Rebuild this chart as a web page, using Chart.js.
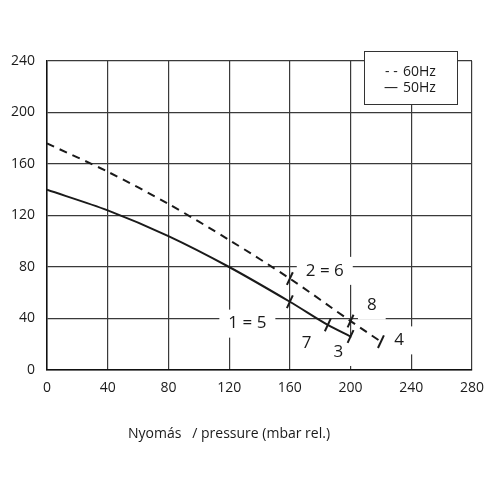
<!DOCTYPE html>
<html>
<head>
<meta charset="utf-8">
<script src="https://cdn.jsdelivr.net/npm/chart.js@4.4.1/dist/chart.umd.min.js"></script>
<style>
  html, body { margin: 0; padding: 0; background: #fff; }
  #wrap { width: 500px; height: 500px; }
</style>
</head>
<body>
<div id="wrap"><canvas id="c"></canvas></div>
<script>
// Görbék (nyomás mbar -> térfogatáram)
const X_60 = [0, 40, 80, 120, 160, 200, 220];
const Y_60 = [176, 154, 129, 101, 71, 38, 22];
const X_50 = [0, 40, 80, 120, 160, 185, 200];
const Y_50 = [140, 124, 104, 80, 53, 35, 26];

// munkapontok jelölései (rövid keresztvonalak)
const MARK_X = [160, 200, 220, 160, 185, 200];
const MARK_Y = [71, 38, 22, 53, 35, 26];

// feliratok
const LABEL_TEXT = ['2 = 6', '1 = 5', '8', '7', '3', '4'];
const LABEL_X    = [183, 132, 214, 171, 192, 232];
const LABEL_Y    = [77, 36, 50, 21, 14, 23];

const X_TICKS = [0, 40, 80, 120, 160, 200, 240, 280];
const Y_TICKS = [0, 40, 80, 120, 160, 200, 240];

const LEGEND = ['60Hz', '50Hz'];
const X_TITLE = 'Nyomás   / pressure (mbar rel.)';

const FONT = '"Open Sans", "DejaVu Sans", sans-serif';
const INK = '#1a1a1a';

const pts = (xs, ys) => xs.map((x, i) => ({ x, y: ys[i] }));

// fehér hátterű címkék a rács fölött, görbék alatt
const labelPlugin = {
  id: 'labels',
  beforeDatasetsDraw(chart) {
    const { ctx, scales: { x, y } } = chart;
    ctx.save();
    ctx.font = '17px ' + FONT;
    ctx.textAlign = 'center';
    ctx.textBaseline = 'middle';
    LABEL_TEXT.forEach((t, i) => {
      const px = x.getPixelForValue(LABEL_X[i]);
      const py = y.getPixelForValue(LABEL_Y[i]);
      const w = ctx.measureText(t).width + 18;
      ctx.fillStyle = '#fff';
      ctx.fillRect(px - w / 2, py - 14, w, 28);
      ctx.fillStyle = INK;
      ctx.fillText(t, px, py);
    });
    ctx.restore();
  },
  afterDraw(chart) {
    const { ctx, chartArea: a } = chart;
    ctx.save();
    // jelmagyarázat doboz
    const bx = a.right - 108, by = a.top - 10, bw = 93, bh = 53;
    ctx.fillStyle = '#fff';
    ctx.fillRect(bx, by, bw, bh);
    ctx.strokeStyle = '#333';
    ctx.lineWidth = 1;
    ctx.strokeRect(bx + 0.5, by + 0.5, bw, bh);
    ctx.font = '14px ' + FONT;
    ctx.fillStyle = INK;
    ctx.textBaseline = 'middle';
    ctx.textAlign = 'left';
    ctx.fillText('- -', bx + 21, by + 21);
    ctx.fillText(LEGEND[0], bx + 39, by + 21);
    ctx.fillText('—', bx + 20, by + 37);
    ctx.fillText(LEGEND[1], bx + 39, by + 37);
    // x tengely címe
    ctx.textAlign = 'center';
    ctx.fillText(X_TITLE, a.left + 182, 434);
    ctx.restore();
  }
};

new Chart(document.getElementById('c'), {
  type: 'line',
  data: {
    datasets: [
      {
        data: pts(X_60, Y_60),
        borderColor: INK, borderWidth: 2, borderDash: [8, 6],
        pointRadius: 0, tension: 0.3, fill: false
      },
      {
        data: pts(X_50, Y_50),
        borderColor: INK, borderWidth: 2,
        pointRadius: 0, tension: 0.3, fill: false
      },
      {
        data: pts(MARK_X, MARK_Y),
        showLine: false,
        pointStyle: 'line', pointRotation: -65, pointRadius: 7,
        pointBorderColor: INK, pointBorderWidth: 2, pointBackgroundColor: INK
      }
    ]
  },
  options: {
    responsive: true,
    maintainAspectRatio: false,
    animation: false,
    layout: { padding: { top: 61, right: 28, bottom: 0, left: 0 } },
    plugins: { legend: { display: false }, tooltip: { enabled: false } },
    scales: {
      x: {
        type: 'linear', min: 0, max: 280,
        afterBuildTicks: s => { s.ticks = X_TICKS.map(v => ({ value: v })); },
        afterFit: s => { s.height = 130; },
        ticks: { color: INK, font: { size: 14, family: FONT }, padding: 10, maxRotation: 0 },
        grid: { color: '#3a3a3a', lineWidth: 1.2, drawTicks: false },
        border: { color: '#111', width: 1.5 }
      },
      y: {
        min: 0, max: 240,
        afterBuildTicks: s => { s.ticks = Y_TICKS.map(v => ({ value: v })); },
        afterFit: s => { s.width = 47; },
        ticks: { color: INK, font: { size: 14, family: FONT }, padding: 12 },
        grid: { color: '#3a3a3a', lineWidth: 1.2, drawTicks: false },
        border: { color: '#111', width: 1.5 }
      }
    }
  },
  plugins: [labelPlugin]
});
</script>
</body>
</html>
